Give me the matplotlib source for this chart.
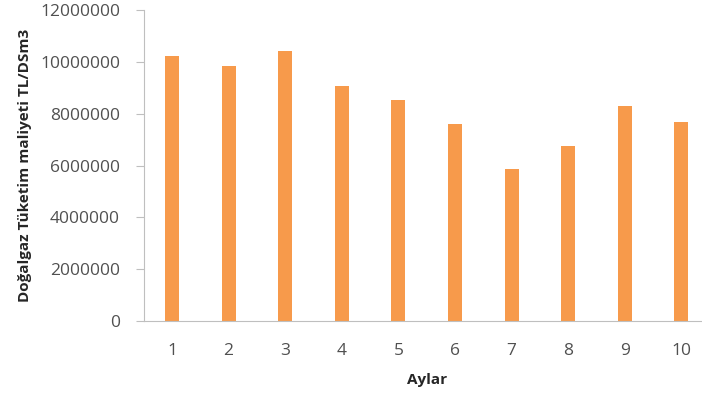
import matplotlib.pyplot as plt
import numpy as np

# aylik dogalgaz tuketim maliyeti
aylar = [1, 2, 3, 4, 5, 6, 7, 8, 9, 10]
maliyet = [10240000, 9820000, 10420000, 9070000, 8510000,
           7610000, 5860000, 6770000, 8310000, 7660000]
yticks = [0, 2000000, 4000000, 6000000, 8000000, 10000000, 12000000]

plt.rcParams['font.family'] = ['Open Sans', 'DejaVu Sans']

fig = plt.figure(figsize=(7.02, 3.99), dpi=100)
ax = fig.add_axes([143.7 / 702, 78 / 399, 566 / 702, 311 / 399])

ax.bar(aylar, maliyet, width=0.25, color='#F79A4B')

ax.set_xlim(0.5, 10.5)
ax.set_ylim(0, 12000000)
ax.set_yticks(yticks)
ax.set_yticklabels([str(v) for v in yticks])
ax.set_xticks(aylar)

for s in ['top', 'right']:
    ax.spines[s].set_visible(False)
ax.spines['left'].set_color('#BFBFBF')
ax.spines['bottom'].set_color('#BFBFBF')
ax.tick_params(axis='y', colors='#BFBFBF', labelcolor='#505050',
               labelsize=12.5, length=6, pad=11)
ax.tick_params(axis='x', length=0, labelcolor='#505050', labelsize=12.5, pad=16)

ax.set_xlabel('Aylar', fontweight='bold', fontsize=11, labelpad=10, color='#262626')
ax.set_ylabel('Doğalgaz Tüketim maliyeti TL/DSm3', fontweight='bold', fontsize=11,
              labelpad=6, color='#262626')

fig.savefig('out.png', dpi=100)
